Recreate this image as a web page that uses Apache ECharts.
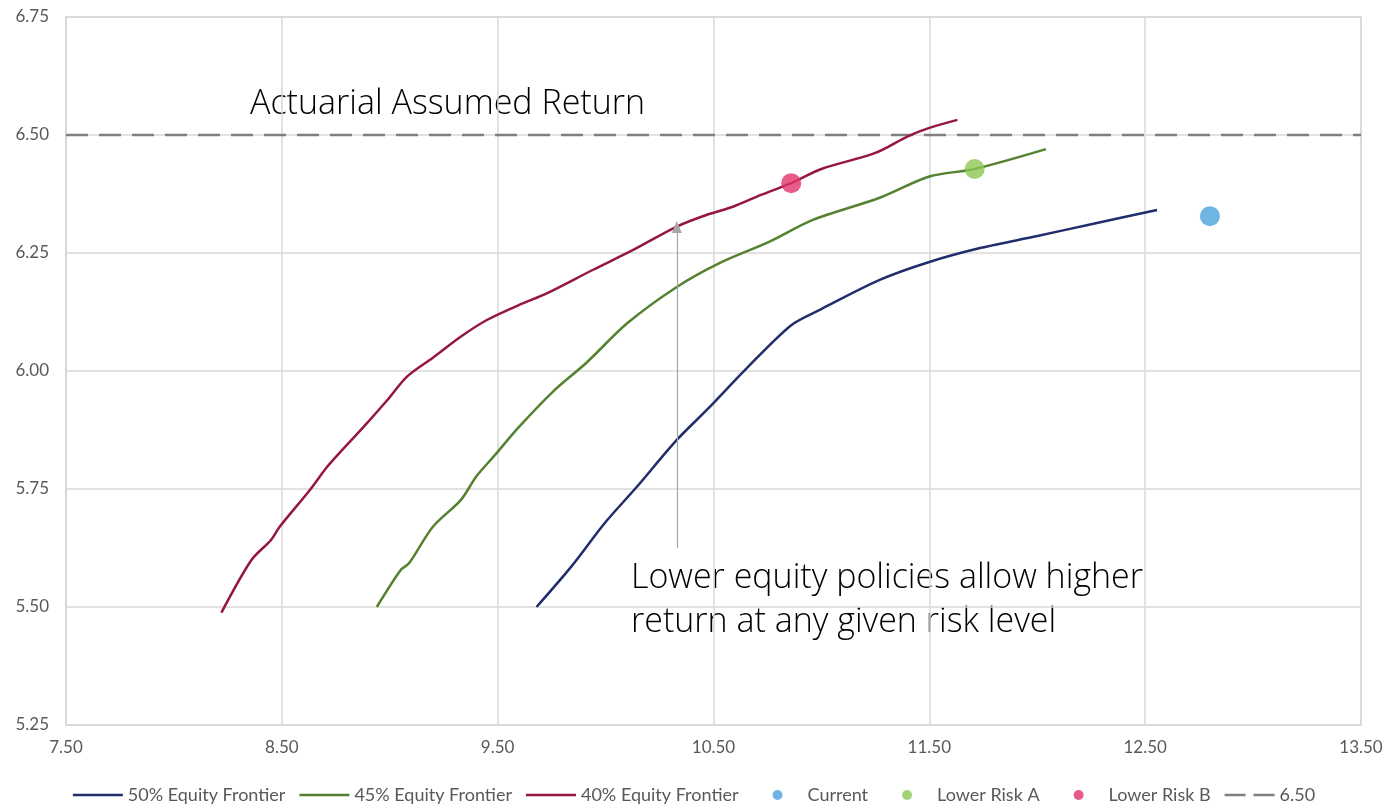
<!DOCTYPE html>
<html>
<head>
<meta charset="utf-8">
<script src="https://cdn.jsdelivr.net/npm/echarts@6/dist/echarts.min.js"></script>
<style>
html,body{margin:0;padding:0;background:#fff;}
#chart{width:1388px;height:807px;}
</style>
</head>
<body>
<div id="chart"></div>
<script>
// ---- Data ----
const xTicks = [7.5, 8.5, 9.5, 10.5, 11.5, 12.5, 13.5];
const yTicks = [5.25, 5.5, 5.75, 6.0, 6.25, 6.5, 6.75];

const equity50 = [
  [9.68, 5.50], [9.84, 5.585], [10.00, 5.680], [10.14, 5.752], [10.33, 5.854],
  [10.47, 5.918], [10.65, 6.004], [10.86, 6.097], [10.99, 6.129], [11.27, 6.193],
  [11.50, 6.231], [11.74, 6.261], [12.00, 6.286], [12.25, 6.311], [12.555, 6.341]
];
const equity45 = [
  [8.94, 5.50], [9.05, 5.578], [9.09, 5.593], [9.20, 5.670], [9.33, 5.727],
  [9.40, 5.776], [9.48, 5.818], [9.60, 5.882], [9.76, 5.958], [9.91, 6.017],
  [10.10, 6.101], [10.33, 6.178], [10.53, 6.229], [10.76, 6.274], [10.96, 6.320],
  [11.27, 6.367], [11.50, 6.412], [11.71, 6.428], [12.04, 6.470]
];
const equity40 = [
  [8.22, 5.488], [8.36, 5.600], [8.45, 5.642], [8.49, 5.670], [8.63, 5.748],
  [8.71, 5.797], [8.78, 5.833], [8.88, 5.882], [8.99, 5.939], [9.08, 5.988],
  [9.20, 6.028], [9.33, 6.073], [9.45, 6.108], [9.60, 6.140], [9.73, 6.165],
  [9.94, 6.214], [10.13, 6.257], [10.33, 6.306], [10.47, 6.331], [10.59, 6.348],
  [10.72, 6.373], [10.86, 6.398], [11.00, 6.428], [11.25, 6.462], [11.40, 6.497],
  [11.50, 6.515], [11.63, 6.532]
];
const currentPt = [[12.80, 6.328]];
const lowerRiskA = [[11.71, 6.428]];
const lowerRiskB = [[10.86, 6.398]];
const assumedReturn = 6.50;
const arrowX = 10.33, arrowFromY = 5.625, arrowToY = 6.305;

const seriesNames = ['50% Equity Frontier', '45% Equity Frontier', '40% Equity Frontier',
  'Current', 'Lower Risk A', 'Lower Risk B', '6.50'];
const annotation1 = 'Actuarial Assumed Return';
const annotation2 = ['Lower equity policies allow higher', 'return at any given risk level'];

// ---- Chart ----
const chart = echarts.init(document.getElementById('chart'), null, {renderer: 'canvas'});
const labelColor = '#595959';
const font = 'Lato, "Open Sans", sans-serif';
const solidIcon = 'path://M0,0M0,3.75L50,3.75L50,6.25L0,6.25ZM50,10';
const dashIcon = 'path://M0,0M0,3.75L21,3.75L21,6.25L0,6.25ZM29,3.75L50,3.75L50,6.25L29,6.25ZM50,10';
const dotIcon = 'path://M0,0M20,5A5,5 0 1,1 30,5A5,5 0 1,1 20,5ZM50,10';

function lineSeries(name, data, color) {
  return {
    name, type: 'line', data, smooth: 0.3, symbol: 'none',
    lineStyle: {color, width: 2.5}, itemStyle: {color}, z: 3
  };
}
function dotSeries(name, data, color) {
  return {
    name, type: 'scatter', data, symbol: 'circle', symbolSize: 20,
    itemStyle: {color}, z: 5
  };
}

const option = {
  animation: false,
  backgroundColor: '#fff',
  grid: {left: 66, top: 17, right: 27, bottom: 82, containLabel: false,
    show: true, borderColor: '#d9d9d9', borderWidth: 1.5},
  xAxis: {
    type: 'value', min: xTicks[0], max: xTicks[xTicks.length - 1], interval: 1,
    axisLine: {show: true, lineStyle: {color: '#d9d9d9', width: 1.5}},
    axisTick: {show: false},
    splitLine: {show: true, lineStyle: {color: '#d9d9d9', width: 1.5}},
    axisLabel: {color: labelColor, fontSize: 17, fontFamily: font, margin: 14,
      formatter: v => v.toFixed(2)}
  },
  yAxis: {
    type: 'value', min: yTicks[0], max: yTicks[yTicks.length - 1], interval: 0.25,
    axisLine: {show: true, lineStyle: {color: '#d9d9d9', width: 1.5}},
    axisTick: {show: false},
    splitLine: {show: true, lineStyle: {color: '#d9d9d9', width: 1.5}},
    axisLabel: {color: labelColor, fontSize: 17, fontFamily: font, margin: 17,
      formatter: v => v.toFixed(2)}
  },
  legend: {
    bottom: -2, left: 'center', itemWidth: 50, itemHeight: 10, itemGap: 14,
    textStyle: {color: labelColor, fontSize: 18, fontFamily: font},
    data: [
      {name: seriesNames[0], icon: solidIcon},
      {name: seriesNames[1], icon: solidIcon},
      {name: seriesNames[2], icon: solidIcon},
      {name: seriesNames[3], icon: dotIcon},
      {name: seriesNames[4], icon: dotIcon},
      {name: seriesNames[5], icon: dotIcon},
      {name: seriesNames[6], icon: dashIcon}
    ]
  },
  series: [
    lineSeries(seriesNames[0], equity50, '#222d6b'),
    lineSeries(seriesNames[1], equity45, '#548230'),
    Object.assign(lineSeries(seriesNames[2], equity40, '#95173f'), {
      markLine: {
        silent: true, symbol: ['none', 'triangle'], symbolSize: [10, 12],
        lineStyle: {color: '#a6a6a6', width: 1.2, type: 'solid'},
        label: {show: false},
        data: [[{coord: [arrowX, arrowFromY]}, {coord: [arrowX, arrowToY]}]]
      }
    }),
    dotSeries(seriesNames[3], currentPt, '#4ba3dc'),
    dotSeries(seriesNames[4], lowerRiskA, '#8dc853'),
    dotSeries(seriesNames[5], lowerRiskB, '#e2336b'),
    {
      name: seriesNames[6], type: 'line', symbol: 'none',
      data: [[xTicks[0], assumedReturn], [xTicks[xTicks.length - 1], assumedReturn]],
      lineStyle: {color: '#7f7f7f', width: 2.5, type: [22, 11]},
      itemStyle: {color: '#7f7f7f'}, z: 2
    }
  ],
  graphic: [
    {type: 'text', left: 250, top: 87, style: {text: annotation1, fill: '#000',
      font: '300 34px "Open Sans", Lato, sans-serif'}},
    {type: 'text', left: 631, top: 556, style: {text: annotation2.join('\n'), fill: '#000',
      font: '300 34px "Open Sans", Lato, sans-serif', lineHeight: 44}}
  ]
};
chart.setOption(option);
</script>
</body>
</html>
